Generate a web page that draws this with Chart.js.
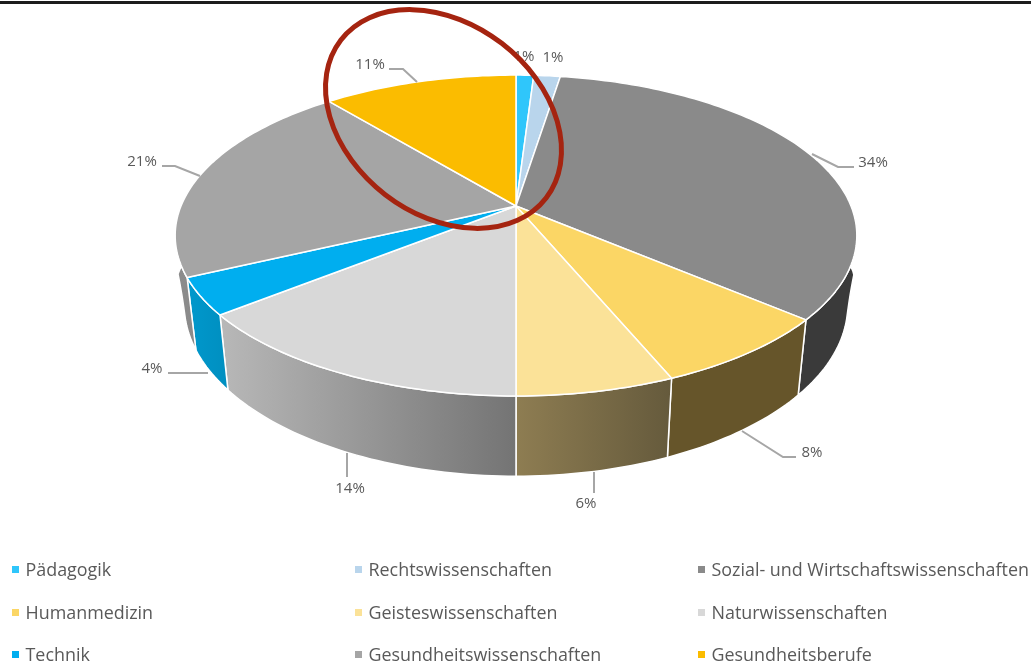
<!DOCTYPE html>
<html><head><meta charset="utf-8">
<style>html,body{margin:0;padding:0;background:#fff}canvas{display:block;filter:blur(.35px)}</style>
<script src="https://cdn.jsdelivr.net/npm/chart.js@4/dist/chart.umd.js"></script>
</head><body>
<canvas id="c" width="1031" height="663"></canvas>
<script>
const categories = ['Pädagogik','Rechtswissenschaften','Sozial- und Wirtschaftswissenschaften','Humanmedizin','Geisteswissenschaften','Naturwissenschaften','Technik','Gesundheitswissenschaften','Gesundheitsberufe'];
const shares = [1, 1.5, 33.7, 7.5, 6.3, 14.3, 3.7, 21, 11];
const shareLabels = ['1%','1%','34%','8%','6%','14%','4%','21%','11%'];
const topColors = ['#2fc6fb','#b9d5ec','#8a8a8a','#fbd665','#fbe298','#d8d8d8','#00aeef','#a5a5a5','#fbbc00'];
const wallLeft = ['#1a8fb8','#8aa0b2','#3a3a3a','#66552a','#8e7d52','#b8b8b8','#0098cc','#8c8c8c','#a08000'];
const wallRight = ['#1a8fb8','#8aa0b2','#3a3a3a','#66552a','#655a3c','#747474','#008fc0','#7c7c7c','#a08000'];

// style / layout constants
const G = {cx:516, cy:206, rx:335, ry:155, p:0.184, rxB:326, ryB:165, yB:274};
const labelPos = [[524,57],[553,58],[873,163],[812,453],[586,504],[350,489],[152,369],[142,162],[370,65]];
const leaders = [null,null,[[812,154],[838,167],[854,167]],[[742,431],[783,457],[796,457]],[[594,472],[594,493]],[[347,453],[347,477]],[[168,373],[208,373]],[[162,166],[175,166],[200,176]],[[389,69],[403,69],[417,82]]];
const legendCols = [11,354,697], legendRows = [570,613,655];

const topPt = a => {const u=Math.cos(a),v=Math.sin(a),w=1-G.p*v;return [G.cx+G.rx*u/w,G.cy+G.ry*v/w];};
const botPt = a => {
  const u=Math.cos(a),v=Math.sin(a),w=1-G.p*v;
  const s=Math.min(1,Math.max(0,1-v/0.25));
  return [G.cx+(G.rxB+12*s*s)*u/w,G.yB+G.ryB*v/w];
};

function arcPts(fn,s,e){const n=Math.max(4,Math.ceil((e-s)/0.02));const r=[];for(let i=0;i<=n;i++)r.push(fn(s+(e-s)*i/n));return r;}
function poly(ctx,pts){pts.forEach((p,i)=>i?ctx.lineTo(p[0],p[1]):ctx.moveTo(p[0],p[1]));}
function poly2(ctx,pts){pts.forEach(p=>ctx.lineTo(p[0],p[1]));}

const pie3d = {
  id:'pie3d',
  beforeDatasetDraw(chart,args){
    const ctx=chart.ctx, arcs=chart.getDatasetMeta(args.index).data;
    ctx.save();
    ctx.lineJoin='round';
    arcs.forEach((el,i)=>{
      const t=arcPts(topPt,el.startAngle,el.endAngle), b=arcPts(botPt,el.startAngle,el.endAngle).reverse();
      const xs=t.concat(b).map(p=>p[0]);
      const g=ctx.createLinearGradient(Math.min(...xs),0,Math.max(...xs),0);
      g.addColorStop(0,wallLeft[i]);g.addColorStop(1,wallRight[i]);
      ctx.beginPath();poly(ctx,t.concat(b));ctx.closePath();
      ctx.fillStyle=g;ctx.fill();
      ctx.strokeStyle='#fff';ctx.lineWidth=1.5;ctx.stroke();
    });
    arcs.forEach(el=>{
      ctx.beginPath();ctx.moveTo(G.cx,G.cy);poly2(ctx,arcPts(topPt,el.startAngle,el.endAngle));ctx.closePath();
      ctx.fillStyle=el.options.backgroundColor;ctx.fill();
      ctx.strokeStyle='#fff';ctx.lineWidth=1.5;ctx.stroke();
    });
    ctx.restore();
    return false;
  },
  afterDraw(chart){
    const ctx=chart.ctx;
    ctx.save();
    ctx.fillStyle='#1c1c1c';ctx.fillRect(0,1,1031,3);
    ctx.strokeStyle='#a6a6a6';ctx.lineWidth=2;
    leaders.forEach(l=>{if(!l)return;ctx.beginPath();poly(ctx,l);ctx.stroke();});
    ctx.fillStyle='#595959';ctx.font='15px "Open Sans"';ctx.textAlign='center';ctx.textBaseline='middle';
    shareLabels.forEach((s,i)=>ctx.fillText(s,labelPos[i][0],labelPos[i][1]));
    ctx.textAlign='left';ctx.font='17.9px "Open Sans"';
    categories.forEach((c,i)=>{
      const x=legendCols[i%3],y=legendRows[Math.floor(i/3)];
      ctx.fillStyle=topColors[i];ctx.fillRect(x+1,y-4,7,7);
      ctx.fillStyle='#595959';ctx.fillText(c,x+14.5,y+1);
    });
    ctx.strokeStyle='#a52410';ctx.lineWidth=5;
    ctx.beginPath();ctx.ellipse(443.5,119,129.5,95.5,37.6*Math.PI/180,0,Math.PI*2);ctx.stroke();
    ctx.restore();
  }
};

new Chart(document.getElementById('c'),{
  type:'pie',
  data:{labels:categories,datasets:[{data:shares,backgroundColor:topColors,borderColor:'#fff',borderWidth:1}]},
  options:{responsive:false,animation:false,plugins:{legend:{display:false},tooltip:{enabled:false}}},
  plugins:[pie3d]
});
</script>
</body></html>
